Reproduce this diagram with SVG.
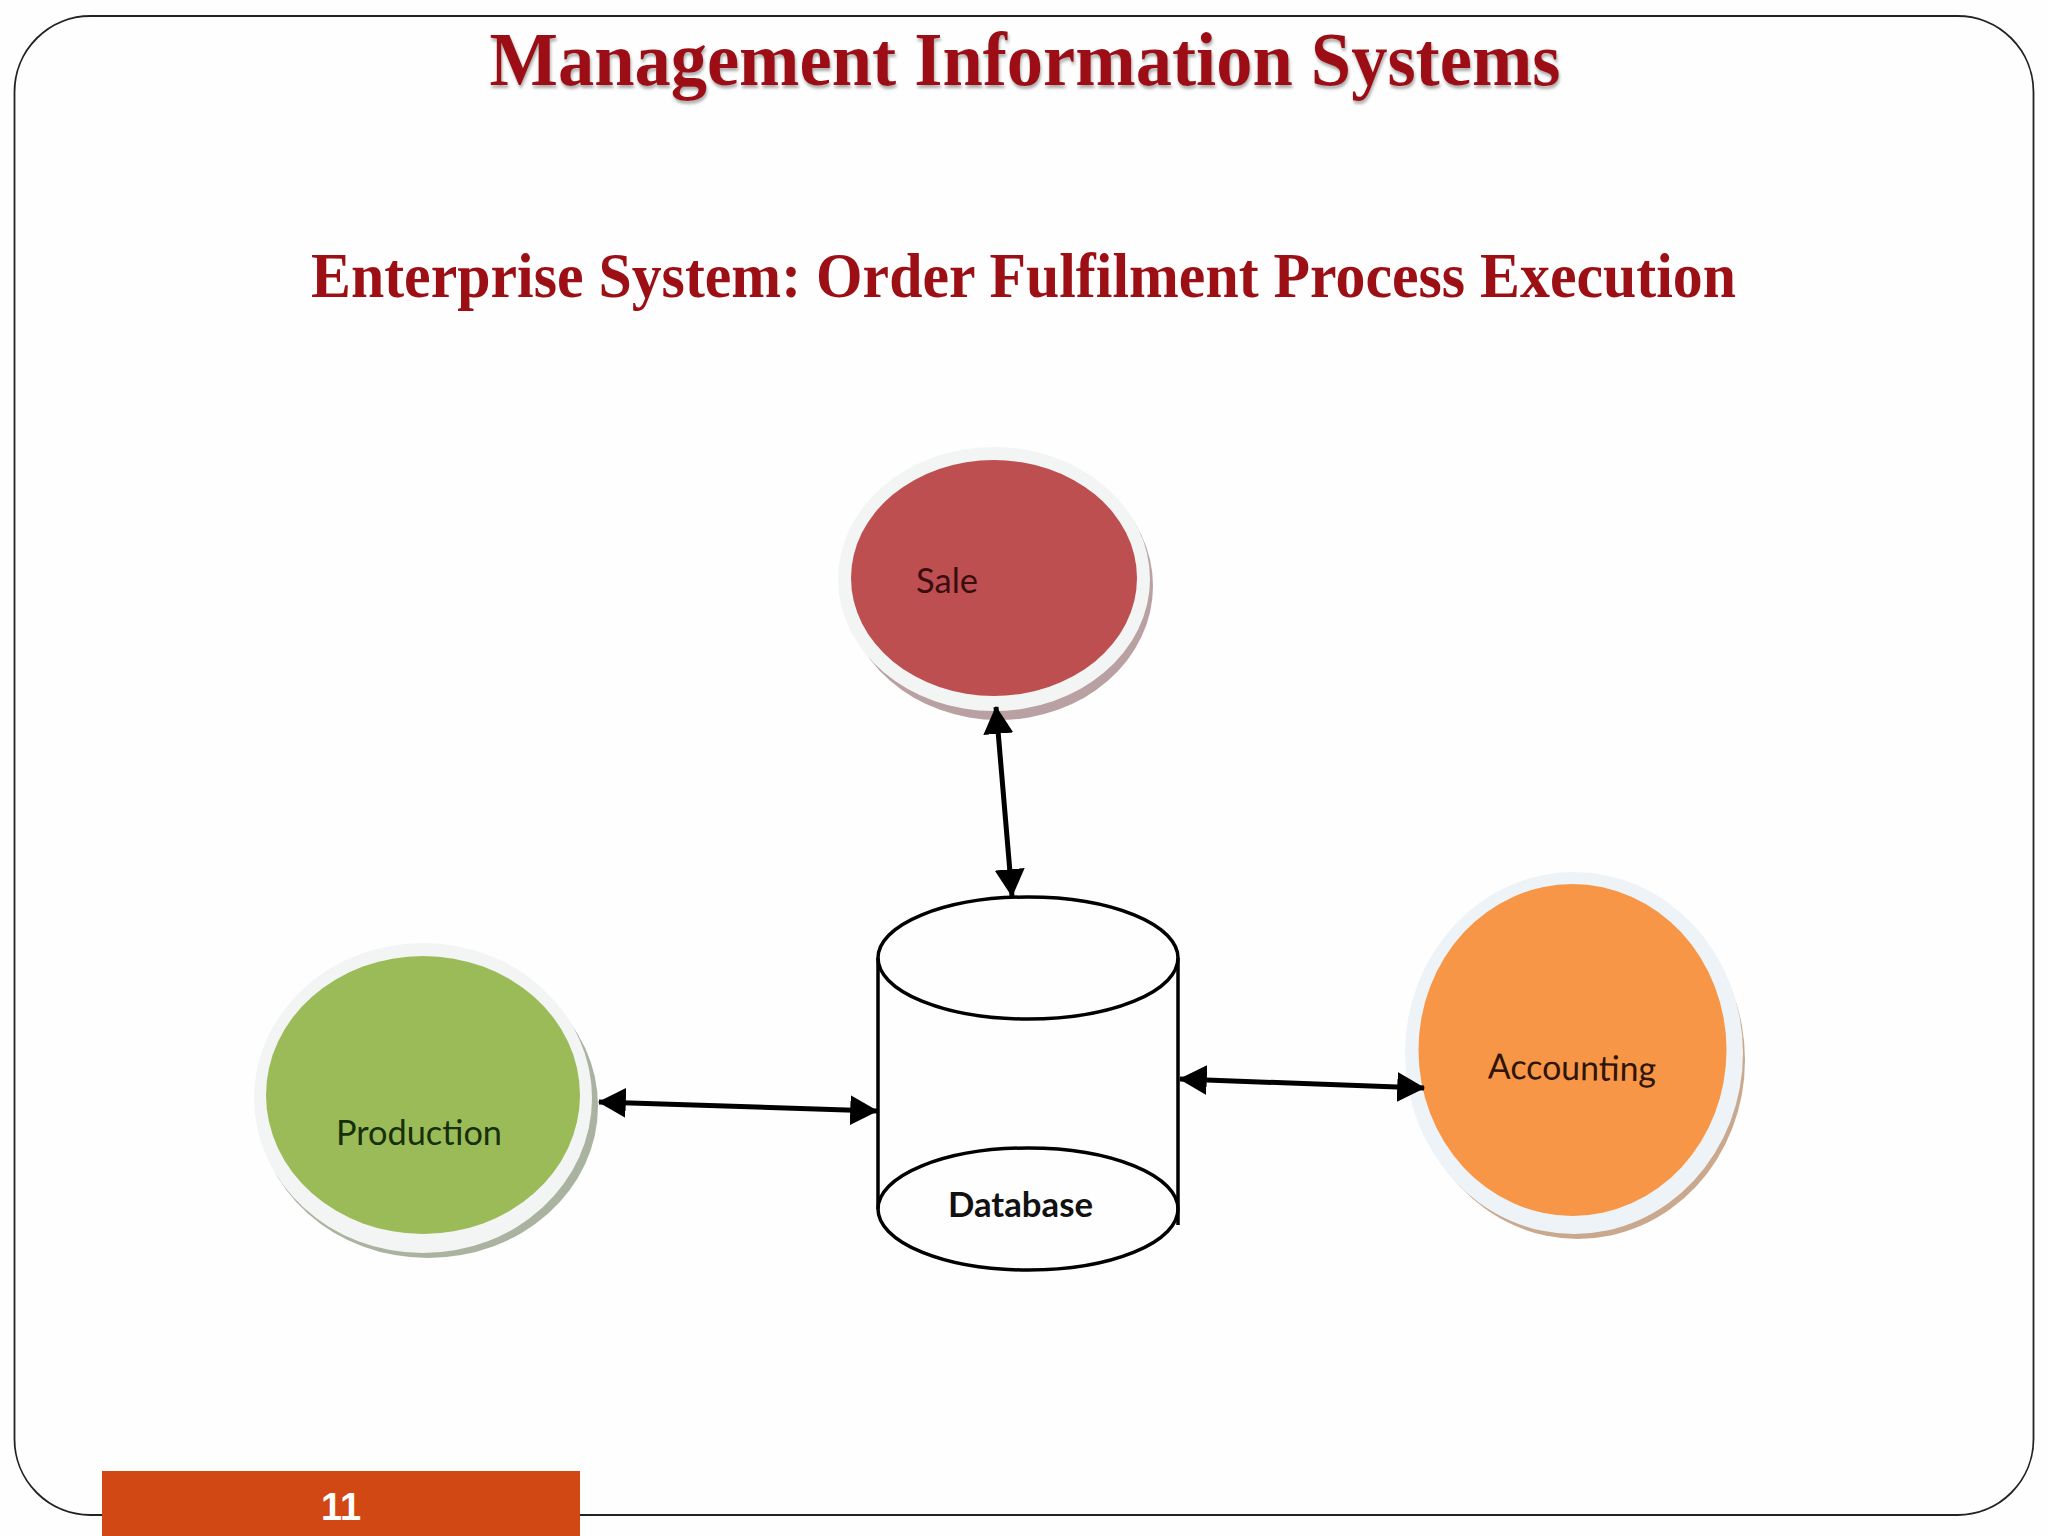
<svg xmlns="http://www.w3.org/2000/svg" width="2048" height="1536" viewBox="0 0 2048 1536">
<defs>
<style>
.title{font-family:"Liberation Serif",serif;font-weight:700;fill:#9c0f14}
.lbl{font-family:"Lato","Liberation Sans",sans-serif;font-size:35px}
.ring{fill:#f3f5f5}
.cyl{fill:none;stroke:#000;stroke-width:3.5}
.conn{stroke:#000;stroke-width:5;fill:none;marker-start:url(#ah);marker-end:url(#ah)}
</style>
<marker id="ah" markerUnits="userSpaceOnUse" markerWidth="30" markerHeight="30" refX="25" refY="14" orient="auto-start-reverse" viewBox="0 0 28 28"><path d="M0 0L26 14L0 28Z" fill="#000"/></marker>
<filter id="ts" x="-2%" y="-10%" width="104%" height="130%"><feDropShadow dx="1" dy="3" stdDeviation="1.5" flood-color="#777" flood-opacity=".6"/></filter>
</defs>
<rect width="2048" height="1536" fill="#fefefe"/>
<rect id="frame" x="14.500" y="16" width="2019" height="1499" rx="76" ry="76" fill="none" stroke="#222" stroke-width="1.800"/>
<g id="titles">
<text class="title" x="1025" y="85" text-anchor="middle" font-size="76" textLength="1071" lengthAdjust="spacingAndGlyphs" filter="url(#ts)">Management Information Systems</text>
<text class="title" x="1023.500" y="297" text-anchor="middle" font-size="63" textLength="1425" lengthAdjust="spacingAndGlyphs">Enterprise System: Order Fulfilment Process Execution</text>
</g>
<g id="sale">
<ellipse cx="999" cy="586" rx="154" ry="134" fill="#b9a0a3"/>
<ellipse class="ring" cx="994" cy="579" rx="156" ry="132"/>
<ellipse cx="994" cy="578" rx="143" ry="118" fill="#bd4f50"/>
<text class="lbl" x="916" y="593" font-size="34" fill="#3a0d10" textLength="62" lengthAdjust="spacingAndGlyphs">Sale</text>
</g>
<g id="production">
<ellipse cx="428" cy="1106" rx="170" ry="152" fill="#aab39f"/>
<ellipse class="ring" cx="423" cy="1098" rx="169" ry="155"/>
<ellipse cx="423" cy="1095" rx="157" ry="139" fill="#9bbb59"/>
<text class="lbl" x="336" y="1145" fill="#16300a" textLength="166" lengthAdjust="spacingAndGlyphs">Production</text>
</g>
<g id="accounting">
<ellipse cx="1578" cy="1060" rx="167" ry="179" fill="#c9a88d"/>
<ellipse class="ring" cx="1574" cy="1053" rx="169" ry="181" style="fill:#eef3f7"/>
<ellipse cx="1572.500" cy="1050" rx="154" ry="166" fill="#f79646"/>
<text class="lbl" x="1488" y="1080" fill="#2f1407" textLength="168" lengthAdjust="spacingAndGlyphs" transform="rotate(1 1572 1070)">Accounting</text>
</g>
<g id="database">
<ellipse class="cyl" cx="1028" cy="958" rx="150" ry="61"/>
<path class="cyl" d="M878 958V1209M1178 958V1225"/>
<ellipse class="cyl" cx="1028" cy="1209" rx="150" ry="61"/>
<text class="lbl" x="948" y="1217" font-weight="700" fill="#111" textLength="145" lengthAdjust="spacingAndGlyphs">Database</text>
</g>
<g id="connectors">
<line class="conn" x1="996" y1="707" x2="1012" y2="896"/>
<line class="conn" x1="599" y1="1102" x2="877" y2="1111"/>
<line class="conn" x1="1180" y1="1079" x2="1424" y2="1088"/>
</g>
<g id="footer">
<rect x="102" y="1471" width="478" height="65" fill="#d24815"/>
<text x="341" y="1520" text-anchor="middle" font-family="Liberation Sans, sans-serif" font-weight="700" font-size="38" fill="#fff">11</text>
</g>
</svg>
